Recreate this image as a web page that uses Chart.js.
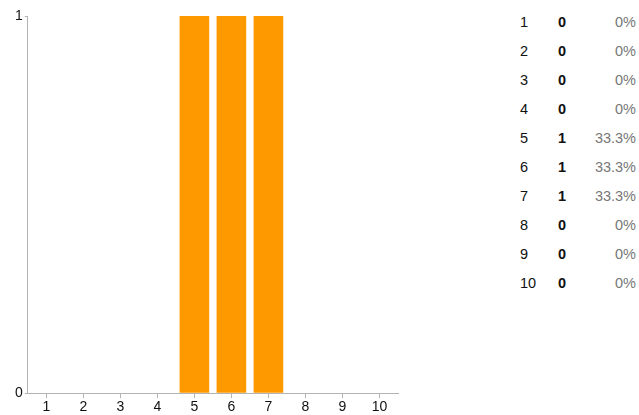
<!DOCTYPE html>
<html>
<head>
<meta charset="UTF-8">
<title>Distribution</title>
<script src="https://cdn.jsdelivr.net/npm/chart.js"></script>
<style>
    html, body { margin: 0; background: #fff; overflow: hidden; font-family: "Liberation Sans", Arial, sans-serif; }
    .wrap { position: relative; width: 639px; height: 415px; overflow: hidden; }
    .chart-box { position: absolute; left: 0; top: 0; width: 405px; height: 419px; }
    table.stats { position: absolute; left: 515px; top: 7px; border-collapse: collapse; font-size: 14.5px; color: #111; }
    table.stats td { height: 29px; padding: 0; }
    td.lab { width: 38px; padding-left: 5px !important; }
    td.cnt { width: 30px; font-weight: bold; }
    td.pct { width: 48px; text-align: right; color: #777; }
</style>
</head>
<body>
<div class="wrap">
    <div class="chart-box"><canvas id="c"></canvas></div>
    <table class="stats" id="stats"></table>
</div>
<script>
    // data
    const categories = ['1', '2', '3', '4', '5', '6', '7', '8', '9', '10'];
    const counts = [0, 0, 0, 0, 1, 1, 1, 0, 0, 0];
    const percents = ['0%', '0%', '0%', '0%', '33.3%', '33.3%', '33.3%', '0%', '0%', '0%'];

    // right-hand table
    const tbl = document.getElementById('stats');
    categories.forEach((c, i) => {
        const tr = document.createElement('tr');
        tr.innerHTML = '<td class="lab">' + c + '</td><td class="cnt">' + counts[i] + '</td><td class="pct">' + percents[i] + '</td>';
        tbl.appendChild(tr);
    });

    const axisColor = '#b3b3b3';
    new Chart(document.getElementById('c'), {
        type: 'bar',
        data: {
            labels: categories,
            datasets: [{
                data: counts,
                backgroundColor: '#ff9900',
                barPercentage: 0.8,
                categoryPercentage: 1.0
            }]
        },
        options: {
            responsive: true,
            maintainAspectRatio: false,
            animation: false,
            layout: { padding: { top: 16, left: 13, right: 7, bottom: 2 } },
            plugins: { legend: { display: false }, tooltip: { enabled: false } },
            scales: {
                x: {
                    grid: { drawOnChartArea: false, offset: false, color: axisColor, tickLength: 5 },
                    border: { color: axisColor },
                    ticks: { color: '#111', font: { family: 'Liberation Sans', size: 14 }, padding: 1, maxRotation: 0 }
                },
                y: {
                    min: 0,
                    max: 1,
                    grid: { drawOnChartArea: false, color: axisColor, tickLength: 3 },
                    border: { color: axisColor },
                    ticks: { stepSize: 1, color: '#111', font: { family: 'Liberation Sans', size: 14 }, padding: 2 }
                }
            }
        }
    });
</script>
</body>
</html>
